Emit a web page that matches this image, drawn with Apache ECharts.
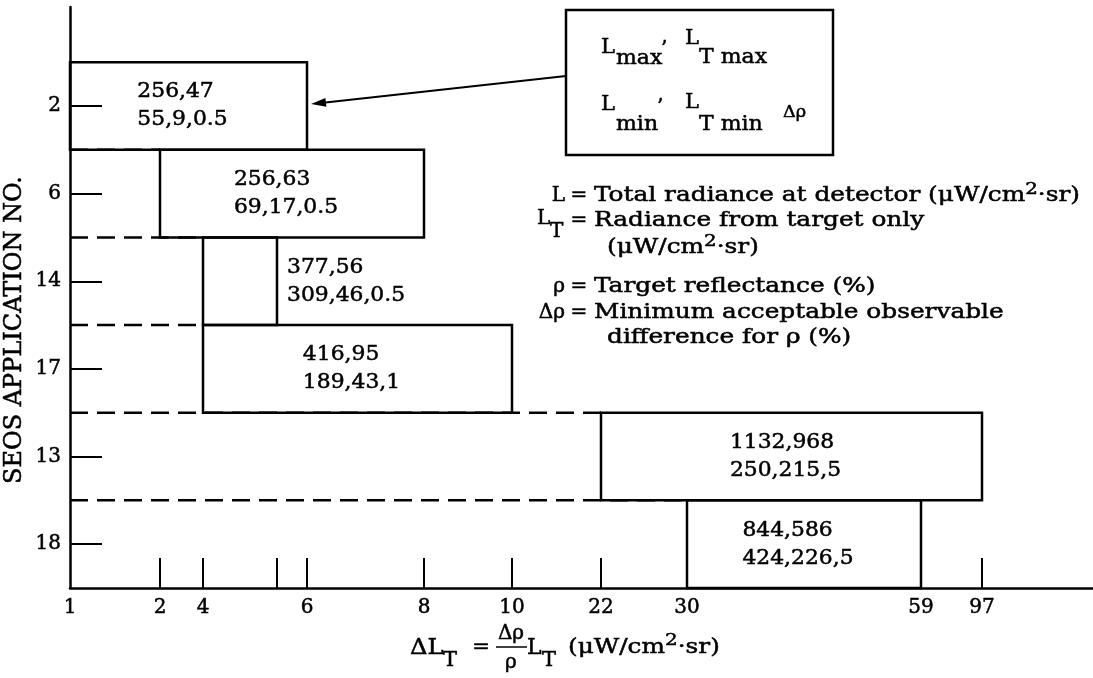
<!DOCTYPE html>
<html>
<head>
<meta charset="utf-8">
<script src="https://cdn.jsdelivr.net/npm/echarts@6/dist/echarts.min.js"></script>
<style>
html, body { margin: 0; padding: 0; background: #ffffff; }
#chart { width: 1093px; height: 678px; }
</style>
</head>
<body>
<div id="chart"></div>
<script>
// ---- data ----
const rows = ['2', '6', '14', '17', '13', '18'];          // SEOS application no., top to bottom
const lowDL = [1, 2, 4, 4, 22, 30];                         // lower ΔL_T bound
const highDL = [6, 8, 5, 10, 97, 59];                       // upper ΔL_T bound
const lLine = ['256,47', '256,63', '377,56', '416,95', '1132,968', '844,586'];      // Lmax, LTmax
const ltLine = ['55,9,0.5', '69,17,0.5', '309,46,0.5', '189,43,1', '250,215,5', '424,226,5']; // Lmin, LTmin, Δρ

// ---- non-uniform x scale of the original figure ----
const xTickValues = [1, 2, 4, 5, 6, 8, 10, 22, 30, 59, 97];
const xTickLabels = ['1', '2', '4', '', '6', '8', '10', '22', '30', '59', '97'];
const xTickPos = [0, 90, 133, 207, 237, 354, 442, 531, 617, 851, 912];
const X_AXIS_MAX = 1023;

const SERIF = '"DejaVu Serif", "Liberation Serif", serif';
const n = rows.length;

function toAxis(v) {
  for (let i = 0; i < xTickValues.length - 1; i++) {
    const a = xTickValues[i], b = xTickValues[i + 1];
    if (v >= a && v <= b) return xTickPos[i] + (v - a) / (b - a) * (xTickPos[i + 1] - xTickPos[i]);
  }
  return v < xTickValues[0] ? xTickPos[0] : xTickPos[xTickPos.length - 1];
}

const boxData = rows.map((r, i) => [toAxis(lowDL[i]), toAxis(highDL[i]), n - 1 - i, n - i, i]);
const dashData = [];
for (let i = 0; i < n - 1; i++) {
  dashData.push([toAxis(1), toAxis(Math.max(lowDL[i], lowDL[i + 1])), n - 1 - i]);
}
const yTickVals = rows.map((r, i) => n - 1 - i + 0.5);

const chart = echarts.init(document.getElementById('chart'));

function txt(x, y, text, opts) {
  opts = opts || {};
  const fs = opts.fontSize || 20;
  const lh = opts.lineHeight || 28;
  return {
    type: 'text', x: x, y: y, z: 10, scaleX: opts.sx || 1,
    style: {
      text: text,
      align: opts.align || 'left',
      verticalAlign: 'middle',
      fill: '#000', stroke: '#000', lineWidth: 0.5,
      fontFamily: SERIF, fontSize: fs,
      rich: {
        n: { fontFamily: SERIF, fontSize: fs, lineHeight: lh, fill: '#000', stroke: '#000', lineWidth: 0.5, align: 'left' },
        sup: { fontFamily: SERIF, fontSize: Math.round(fs * 0.82), lineHeight: lh, verticalAlign: 'top', fill: '#000', stroke: '#000', lineWidth: 0.5, align: 'left' }
      }
    }
  };
}

// arrow from the key box to the first bar
const arrowStart = [566, 76], arrowTip = [311, 104];
const adx = arrowTip[0] - arrowStart[0], ady = arrowTip[1] - arrowStart[1];
const alen = Math.sqrt(adx * adx + ady * ady);
const ux = adx / alen, uy = ady / alen;
const headL = 15, headW = 4.5;
const arrowHead = [
  arrowTip,
  [arrowTip[0] - ux * headL - uy * headW, arrowTip[1] - uy * headL + ux * headW],
  [arrowTip[0] - ux * headL + uy * headW, arrowTip[1] - uy * headL - ux * headW]
];

const symR = 565, eqX = 579, descX = 594, indentX = 607, LSX = 1.24;

const graphics = [
  // y-axis title
  {
    type: 'text', x: 15, y: 330, rotation: Math.PI / 2,
    style: { text: 'SEOS APPLICATION NO.', fontFamily: SERIF, fontSize: 24, fill: '#000', stroke: '#000', lineWidth: 0.5, align: 'center', verticalAlign: 'middle' }
  },
  // key box
  { type: 'rect', shape: { x: 566, y: 10, width: 267, height: 145 }, style: { fill: 'none', stroke: '#000', lineWidth: 2.5 } },
  { type: 'line', shape: { x1: arrowStart[0], y1: arrowStart[1], x2: arrowTip[0] - ux * 10, y2: arrowTip[1] - uy * 10 }, style: { stroke: '#000', lineWidth: 2 } },
  { type: 'polygon', shape: { points: arrowHead }, style: { fill: '#000' } },
  txt(601, 48, 'L', { fontSize: 21 }),
  txt(616, 59, 'max', { fontSize: 20, sx: 1.1 }),
  txt(661, 50, '’', { fontSize: 20 }),
  txt(685, 39, 'L', { fontSize: 21 }),
  txt(699, 58, 'T max', { fontSize: 20, sx: 1.1 }),
  txt(601, 105, 'L', { fontSize: 21 }),
  txt(616, 125, 'min', { fontSize: 20, sx: 1.1 }),
  txt(657, 108, '’', { fontSize: 20 }),
  txt(685, 103, 'L', { fontSize: 21 }),
  txt(699, 125, 'T min', { fontSize: 20, sx: 1.1 }),
  txt(783, 113, 'Δρ', { fontSize: 16, sx: 1.1 }),
  // definitions
  txt(symR, 196, 'L', { align: 'right' }),
  txt(eqX, 196, '=', { align: 'center' }),
  txt(descX, 196, '{n|Total radiance at detector (μW/cm}{sup|2}{n|·sr)}', { sx: LSX }),
  txt(537, 219, 'L'),
  txt(550, 232, 'T'),
  txt(eqX, 221, '=', { align: 'center' }),
  txt(descX, 221, 'Radiance from target only', { sx: LSX }),
  txt(indentX, 248, '{n|(μW/cm}{sup|2}{n|·sr)}', { sx: LSX }),
  txt(symR, 287, 'ρ', { align: 'right' }),
  txt(eqX, 287, '=', { align: 'center' }),
  txt(descX, 287, 'Target reflectance (%)', { sx: LSX }),
  txt(symR, 313, 'Δρ', { align: 'right' }),
  txt(eqX, 313, '=', { align: 'center' }),
  txt(descX, 313, 'Minimum acceptable observable', { sx: LSX }),
  txt(indentX, 338, 'difference for ρ (%)', { sx: LSX }),
  // x-axis title
  txt(410, 648, 'ΔL', { fontSize: 22, sx: 1.1 }),
  txt(443, 661, 'T', { fontSize: 21 }),
  txt(481, 648, '=', { align: 'center', fontSize: 21 }),
  txt(511, 634, 'Δρ', { align: 'center', fontSize: 20 }),
  { type: 'line', shape: { x1: 496, y1: 647, x2: 527, y2: 647 }, style: { stroke: '#000', lineWidth: 1.5 } },
  txt(511, 663, 'ρ', { align: 'center', fontSize: 20 }),
  txt(527, 648, 'L', { fontSize: 22 }),
  txt(542, 661, 'T', { fontSize: 21 }),
  txt(568, 648, '{n|(μW/cm}{sup|2}{n|·sr)}', { fontSize: 21, lineHeight: 32, sx: 1.18 })
];

const option = {
  backgroundColor: '#ffffff',
  animation: false,
  grid: { left: 70, right: 0, top: 7, bottom: 90, containLabel: false },
  xAxis: {
    type: 'value', min: 0, max: X_AXIS_MAX,
    axisLine: { show: true, lineStyle: { color: '#000', width: 2.5 } },
    axisTick: { show: true, inside: true, length: 30, customValues: xTickPos.slice(1), lineStyle: { color: '#000', width: 2 } },
    axisLabel: {
      show: true, customValues: xTickPos, margin: 10, color: '#000', fontFamily: SERIF, fontSize: 20,
      textBorderColor: '#000', textBorderWidth: 0.5,
      formatter: function (v) {
        let best = 0;
        for (let i = 1; i < xTickPos.length; i++) if (Math.abs(xTickPos[i] - v) < Math.abs(xTickPos[best] - v)) best = i;
        return xTickLabels[best];
      }
    },
    splitLine: { show: false }
  },
  yAxis: {
    type: 'value', min: 0, max: 6.63,
    axisLine: { show: true, lineStyle: { color: '#000', width: 2.5 } },
    axisTick: { show: true, inside: true, length: 32, customValues: yTickVals, lineStyle: { color: '#000', width: 2 } },
    axisLabel: {
      show: true, customValues: yTickVals, margin: 9, color: '#000', fontFamily: SERIF, fontSize: 20,
      textBorderColor: '#000', textBorderWidth: 0.5,
      formatter: function (v) {
        const i = Math.round(n - 0.5 - v);
        return rows[i] !== undefined ? rows[i] : '';
      }
    },
    splitLine: { show: false }
  },
  series: [
    {
      type: 'custom', name: 'dashed', data: dashData, z: 2,
      renderItem: function (params, api) {
        const a = api.coord([api.value(0), api.value(2)]);
        const b = api.coord([api.value(1), api.value(2)]);
        return { type: 'line', shape: { x1: a[0], y1: a[1], x2: b[0], y2: b[1] }, style: { stroke: '#000', lineWidth: 2.5, lineDash: [18, 9] } };
      }
    },
    {
      type: 'custom', name: 'ranges', data: boxData, z: 3,
      renderItem: function (params, api) {
        const i = api.value(4);
        const p0 = api.coord([api.value(0), api.value(3)]);
        const p1 = api.coord([api.value(1), api.value(2)]);
        const w = p1[0] - p0[0], h = p1[1] - p0[1];
        const narrow = w < 110;
        return {
          type: 'group',
          children: [
            { type: 'rect', shape: { x: p0[0], y: p0[1], width: w, height: h }, style: { fill: 'none', stroke: '#000', lineWidth: 2.5 } },
            {
              type: 'text', x: narrow ? p1[0] + 10 : p0[0] + w / 2 - 6, y: p0[1] + h / 2, scaleX: 1.04,
              style: {
                text: '{a|' + lLine[i] + '}\n{a|' + ltLine[i] + '}',
                align: narrow ? 'left' : 'center', verticalAlign: 'middle',
                rich: { a: { align: 'left', fontFamily: SERIF, fontSize: 21, lineHeight: 28, fill: '#000', stroke: '#000', lineWidth: 0.5 } }
              }
            }
          ]
        };
      }
    }
  ],
  graphic: graphics
};
chart.setOption(option);
</script>
</body>
</html>
